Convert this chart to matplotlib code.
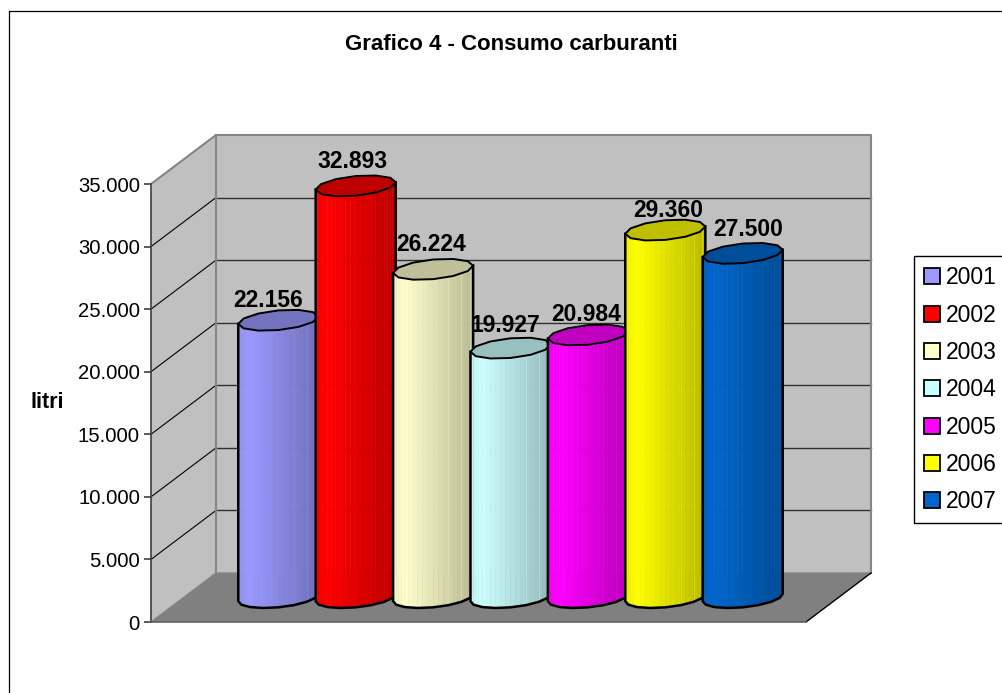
import numpy as np
import matplotlib
matplotlib.use('Agg')
import matplotlib.pyplot as plt
from matplotlib.lines import Line2D
from matplotlib.patches import Patch

plt.rcParams['font.family'] = ['Liberation Sans', 'DejaVu Sans']

years = ['2001', '2002', '2003', '2004', '2005', '2006', '2007']
litri = [22156, 32893, 26224, 19927, 20984, 29360, 27500]
colors = ['#9999FF', '#FF0000', '#FFFFCC', '#CCFFFF', '#FF00FF', '#FFFF00', '#0066CC']
y_ticks = [0, 5000, 10000, 15000, 20000, 25000, 30000, 35000]

# label nudges from the top of each cylinder, pixels
label_dx = [-10, -3, -2, -5, -2, 3, 5]
label_dy = [13, 18, 18, 16, 14, 13, 17]

W, H = 1002, 693
PX = 72.0 / 100  # points per pixel


def dotted(v):
    return '{:,}'.format(v).replace(',', '.')


def shade(color, f):
    return tuple(c * f for c in matplotlib.colors.to_rgb(color))


fig = plt.figure(figsize=(W / 100, H / 100), dpi=100)
ax = fig.add_axes([151 / W, (H - 622) / H, 655 / W, 438 / H])

# x unit is one cylinder, cylinders are a bit under 78 px apart
px_x = 77.4
x0 = 3 - (478 - 151) / px_x
x1 = x0 + 655 / px_x
px_y = 438 / 35000
ax.set_xlim(x0, x1)
ax.set_ylim(0, 35000)
ax.patch.set_visible(False)

dx = 65 / px_x   # depth offset of the back wall
dy = 49 / px_y

wall = '#C0C0C0'
edge = '#858585'
ax.fill([x0 + dx, x1 + dx, x1 + dx, x0 + dx], [dy, dy, 35000 + dy, 35000 + dy], color=wall, lw=0, clip_on=False, zorder=1)
ax.fill([x0, x0 + dx, x0 + dx, x0], [0, dy, 35000 + dy, 35000], color=wall, lw=0, clip_on=False, zorder=1)
ax.fill([x0, x1, x1 + dx, x0 + dx], [0, 0, dy, dy], color='#808080', lw=0, clip_on=False, zorder=1)

for v in y_ticks[1:-1]:
    ax.plot([x0 + dx, x1 + dx], [v + dy, v + dy], color='#303030', lw=1.0, clip_on=False, zorder=2)
    ax.plot([x0, x0 + dx], [v, v + dy], color='black', lw=0.8, clip_on=False, zorder=2)

ax.plot([x0, x0 + dx, x1 + dx, x1 + dx], [35000, 35000 + dy, 35000 + dy, dy], color=edge, lw=1.5, clip_on=False, zorder=2)
ax.plot([x0 + dx, x0 + dx], [dy, 35000 + dy], color=edge, lw=1.5, clip_on=False, zorder=2)
ax.plot([x0, x0 + dx, x1 + dx], [0, dy, dy], color=edge, lw=1.0, clip_on=False, zorder=2)
ax.plot([x1, x1 + dx], [0, dy], color='black', lw=1.0, clip_on=False, zorder=2)

# cylinder section: circle in the floor plane, sheared like the floor
a = 37.5 / px_x
b = 14.0 / px_x
c = 10.5 / px_y
t0 = np.arctan2(b, a)
z = 10

for i, (v, col) in enumerate(zip(litri, colors)):
    cx = i + dx / 2
    base = dy / 2
    top = v + dy / 2

    # polygonal outline like the original, front half of section
    t = np.linspace(t0 + np.pi, t0 + 2 * np.pi, 9)
    ex = cx + a * np.cos(t) + b * np.sin(t)
    ey = c * np.sin(t)

    # shading strips, finer than the outline
    tf = np.linspace(t0 + np.pi, t0 + 2 * np.pi, 25)
    fx = cx + a * np.cos(tf) + b * np.sin(tf)
    fy = np.interp(fx, ex, ey)
    for k in range(len(tf) - 1):
        f = ((fx[k] + fx[k + 1]) / 2 - fx[0]) / (fx[-1] - fx[0])
        if f < 0.15:
            s = 0.95 + 0.05 * f / 0.15
        else:
            s = 1.0 - 0.27 * (f - 0.15) / 0.85
        ax.fill([fx[k], fx[k + 1], fx[k + 1], fx[k]],
                [base + fy[k], base + fy[k + 1], top + fy[k + 1], top + fy[k]],
                color=shade(col, s), lw=0.3, clip_on=False, zorder=z)
    for k in (5, 6, 7):
        ax.plot([ex[k], ex[k]], [base + ey[k], top + ey[k]],
                color=shade(col, 1.0), alpha=0.35, lw=0.7, clip_on=False, zorder=z)

    ax.plot(np.r_[ex[0], ex, ex[-1]], np.r_[top + ey[0], base + ey, top + ey[-1]],
            color='black', lw=1.8, clip_on=False, zorder=z + 0.2, solid_joinstyle='round')

    t = np.linspace(0, 2 * np.pi, 13)
    ax.fill(cx + a * np.cos(t + t0) + b * np.sin(t + t0), top + c * np.sin(t + t0),
            facecolor=shade(col, 0.75), edgecolor='black', lw=1.4, clip_on=False, zorder=z + 0.4)
    z += 1

for i, v in enumerate(litri):
    ax.annotate(dotted(v), (i + dx / 2, v + dy / 2), xytext=(label_dx[i] * PX, label_dy[i] * PX),
                textcoords='offset points', ha='center', va='baseline', fontsize=16.5,
                fontweight='bold', color='black', zorder=40, annotation_clip=False)

ax.set_xticks([])
ax.set_yticks(y_ticks)
ax.set_yticklabels([dotted(v) for v in y_ticks], fontsize=14.6)
ax.tick_params(axis='y', length=5, width=1.2, color='#404040', pad=3)
for side in ['top', 'right']:
    ax.spines[side].set_visible(False)
ax.spines['left'].set_color('#404040')
ax.spines['left'].set_linewidth(1.2)
ax.spines['left'].set_zorder(3)
ax.spines['bottom'].set_color('#606060')
ax.spines['bottom'].set_linewidth(1.2)
ax.spines['bottom'].set_zorder(3)

fig.text(511 / W, 1 - 44 / H, 'Grafico 4 - Consumo carburanti', ha='center', va='center',
         fontsize=16, fontweight='bold')
fig.text(47.5 / W, 1 - 403 / H, 'litri', ha='center', va='center', fontsize=15.5, fontweight='bold')

handles = [Patch(facecolor=col, edgecolor='black', lw=1.3, label=y) for y, col in zip(years, colors)]
fig.legend(handles=handles, loc='upper left', bbox_to_anchor=(914 / W, 1 - 256.5 / H), fontsize=16.5,
           frameon=True, fancybox=False, framealpha=1, edgecolor='black', borderpad=0.43,
           handlelength=0.7, handleheight=0.7, handletextpad=0.27, labelspacing=0.625, borderaxespad=0)

# chart frame, runs off the right and bottom of the picture
fig.add_artist(Line2D([8.5 / W, 8.5 / W, 1], [0, 1 - 10.5 / H, 1 - 10.5 / H], color='black', lw=0.9))

fig.savefig('out.png', dpi=100)
